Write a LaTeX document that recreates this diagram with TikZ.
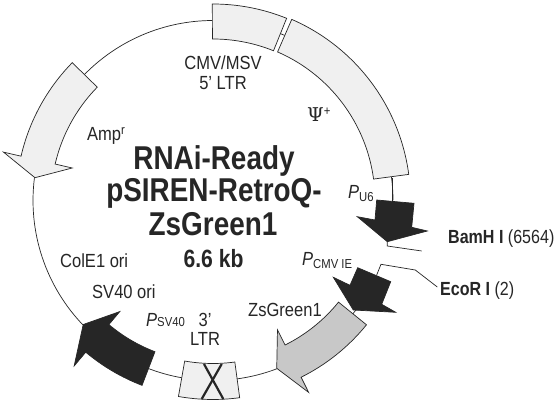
\documentclass[tikz,border=0pt]{standalone}
\usepackage{fontspec}
\setmainfont[FakeStretch=0.87]{Liberation Sans}
\newfontfamily\titlefont[FakeStretch=0.845]{Liberation Sans}
\newfontfamily\symfont{DejaVu Serif}
\definecolor{inkc}{HTML}{262626}
\definecolor{lightc}{HTML}{F0F0F0}
\definecolor{midc}{HTML}{C8C8C8}
\newcommand{\supr}[1]{\raisebox{6.5pt}{\fontsize{13}{13}\selectfont #1}}
\tikzset{
  line/.style={draw=inkc,line width=0.7pt},
  feat/.style={draw=inkc,line width=0.7pt,line join=miter},
  lab/.style={text=inkc,font=\fontsize{19}{19}\selectfont,inner sep=0pt},
  ttl/.style={text=inkc,font=\titlefont\bfseries\fontsize{33}{33}\selectfont,inner sep=0pt,anchor=base},
  site/.style={text=inkc,font=\titlefont\bfseries\fontsize{19}{19}\selectfont,inner sep=0pt,anchor=base west}
}
\begin{document}
\begin{tikzpicture}[x=1pt,y=-1pt]
\useasboundingbox[fill=white] (0,0) rectangle (558,406);
\coordinate (c) at (213,200.5);
\begin{scope}[shift={(c)},x=1pt,y=1pt]
\draw[line] (90.2:180) arc[start angle=90.2,end angle=135.6,radius=180];
\draw[line] (172.7:180) arc[start angle=172.7,end angle=223.7,radius=180];
\draw[line] (249:180) arc[start angle=249,end angle=260,radius=180];
\draw[line] (-82.3:180) arc[start angle=-82.3,end angle=-69.2,radius=180];
\draw[line] (68:180) arc[start angle=68,end angle=66.5,radius=180];
\draw[line] (7.6:180) arc[start angle=7.6,end angle=0,radius=180];
\draw[line] (-39:180) arc[start angle=-39,end angle=-35,radius=180];
% 5' LTR
\draw[feat,fill=lightc] (90.2:196.5) arc[start angle=90.2,end angle=68,radius=196.5] -- (68:161.5) arc[start angle=68,end angle=90.2,radius=161.5] -- cycle;
% Psi
\draw[feat,fill=lightc] (66.5:197.5) arc[start angle=66.5,end angle=7.6,radius=197.5] -- (7.6:162) arc[start angle=7.6,end angle=66.5,radius=162] -- cycle;
% Amp
\draw[feat,fill=lightc] (135.6:197) arc[start angle=135.6,end angle=167,radius=197] -- (167:215) -- (172.7:179.5) -- (167:144.5) -- (167:162) arc[start angle=167,end angle=135.6,radius=162] -- cycle;
% SV40
\draw[feat,fill=inkc] (-111:198) arc[start angle=-111,end angle=-130,radius=198] -- (-130:216) -- (-136.3:179.5) -- (-130:145) -- (-130:162) arc[start angle=-130,end angle=-111,radius=162] -- cycle;
% 3' LTR
\draw[feat,fill=lightc] (-100:163) arc[start angle=-100,end angle=-82.3,radius=163] -- (-82.3:199) arc[start angle=-82.3,end angle=-100,radius=199] -- cycle;
% ZsGreen1
\draw[feat,fill=midc] (-39:161.5) arc[start angle=-39,end angle=-63.5,radius=161.5] -- (-63.5:144.5) -- (-69.2:179.5) -- (-63.5:214.5) -- (-63.5:197.5) arc[start angle=-63.5,end angle=-39,radius=197.5] -- cycle;
\end{scope}
% X of 3' LTR
\draw[draw=inkc,line width=2.2pt] (204,364) -- (223.3,399);
\draw[draw=inkc,line width=2.2pt] (221.7,364) -- (201.7,399);
% P_U6 arrow and BamH I leader
\draw[line] (392.7,178) -- (392.7,202);
\draw[feat,fill=inkc] (376.7,200) -- (414,203.3) -- (411.7,227.3) -- (427.3,231) -- (387.3,241.7) -- (357.3,216.7) -- (375,220) -- cycle;
\coordinate (bam1) at (387.3,241.7);
\coordinate (bam2) at (387.3,246);
\coordinate (bam3) at (421.7,251);
\draw[line] (bam1) -- (bam2) -- (bam3);
% P_CMV arrow and EcoR I leader
\draw[feat,fill=inkc] (357.7,267.7) -- (390.7,281.7) -- (381.7,304.3) -- (395.7,312.3) -- (353.3,310) -- (333.3,277.3) -- (350,285.3) -- cycle;
\coordinate (eco1) at (376.7,275);
\coordinate (eco2) at (381,264.3);
\coordinate (eco3) at (415.3,270);
\coordinate (eco4) at (437.3,287);
\draw[line] (eco1) -- (eco2) -- (eco3) -- (eco4);
% labels
\node[lab] (cmv) at (223,63) {CMV/MSV};
\node[lab] (ltrf) at (223,83) {5' LTR};
\node[lab,anchor=base west] (psi) at (307,122) {{\symfont Ψ}\supr{+}};
\node[lab,anchor=base west] (amp) at (87,141) {Amp\supr{r}};
\node[ttl] (t1) at (214,170) {RNAi-Ready};
\node[ttl] (t2) at (214,202) {pSIREN-RetroQ-};
\node[ttl] (t3) at (213,236) {ZsGreen1};
\node[text=inkc,font=\titlefont\bfseries\fontsize{25}{25}\selectfont,inner sep=0pt,anchor=base] (t4) at (213.5,268) {6.6 kb};
\node[lab,anchor=base west] (pu6) at (348,199) {\textit{P}\raisebox{-3pt}{\fontsize{13}{13}\selectfont U6}};
\node[site] (bam) at (448,244) {BamH I \fontsize{19}{19}\selectfont\mdseries(6564)};
\node[lab,anchor=base west] (pcmv) at (302,266) {\textit{P}\raisebox{-3pt}{\fontsize{13}{13}\selectfont CMV IE}};
\node[site] (eco) at (440,296) {EcoR I \fontsize{19}{19}\selectfont\mdseries(2)};
\node[lab,anchor=base west] (zs) at (248,317) {ZsGreen1};
\node[lab] (ltrt1) at (205,320) {3'};
\node[lab] (ltrt2) at (205,339) {LTR};
\node[lab,anchor=base west] (psv) at (146,327) {\textit{P}{\fontsize{13}{13}\selectfont SV40}};
\node[lab,anchor=base west] (cole) at (60,268) {ColE1 ori};
\node[lab,anchor=base west] (svo) at (92,299) {SV40 ori};
\end{tikzpicture}
\end{document}
